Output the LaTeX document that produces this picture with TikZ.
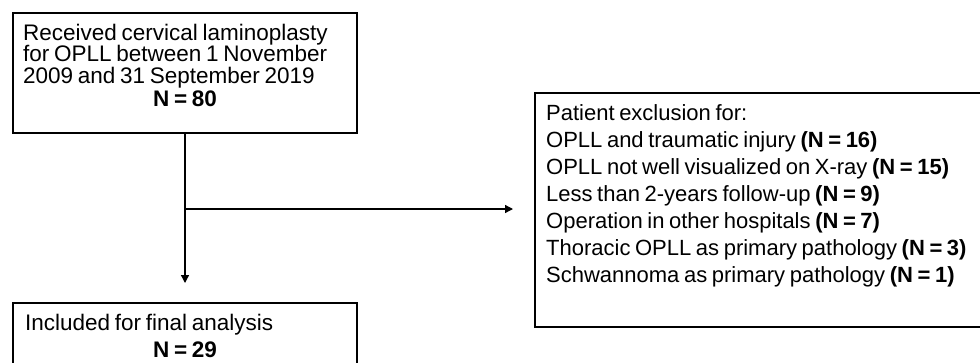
\documentclass[tikz,border=0pt]{standalone}
\usepackage{fontspec}
\setmainfont[WordSpace=0.75]{Liberation Sans}
\usetikzlibrary{arrows.meta}
\begin{document}
\begin{tikzpicture}[x=1pt,y=-1pt,
  box/.style={draw, line width=1.3pt, inner sep=0pt, outer sep=0pt},
  txt/.style={anchor=base west, inner sep=0pt, font=\fontsize{22.5}{27}\selectfont},
  rtxt/.style={anchor=base west, inner sep=0pt, font=\fontsize{22}{27}\selectfont},
  ctr/.style={anchor=base, inner sep=0pt, font=\fontsize{22.5}{27}\selectfont\bfseries},
  link/.style={line width=1.3pt, -{Triangle[length=8pt,width=8pt]}}]
\useasboundingbox (0,0) rectangle (980,362);
\clip (0,0) rectangle (980,362);
% boxes
\node[box, minimum width=344pt, minimum height=120pt] (top) at (185,73) {};
\node[box, minimum width=475pt, minimum height=234pt] (excl) at (772.5,210) {};
\node[box, minimum width=344pt, minimum height=97pt] (incl) at (185,351.5) {};
% top box text
\node[txt] (t1) at (23,40) {Received cervical laminoplasty};
\node[txt] (t2) at (23,61.7) {for OPLL between 1 November};
\node[txt] (t3) at (23,83.3) {2009 and 31 September 2019};
\node[ctr] (t4) at (185,106) {N = 80};
% exclusion text
\node[rtxt] (e0) at (546,120) {Patient exclusion for:};
\node[rtxt] (e1) at (546,147) {OPLL and traumatic injury \textbf{(N = 16)}};
\node[rtxt] (e2) at (546,174) {OPLL not well visualized on X-ray \textbf{(N = 15)}};
\node[rtxt] (e3) at (546,201) {Less than 2-years follow-up \textbf{(N = 9)}};
\node[rtxt] (e4) at (546,228) {Operation in other hospitals \textbf{(N = 7)}};
\node[rtxt] (e5) at (546,255) {Thoracic OPLL as primary pathology \textbf{(N = 3)}};
\node[rtxt] (e6) at (546,282) {Schwannoma as primary pathology \textbf{(N = 1)}};
% included text
\node[txt] (i1) at (25,330) {Included for final analysis};
\node[ctr] (i2) at (185,357) {N = 29};
% connectors
\coordinate (j) at (185,209);
\draw[link, shorten >=20pt] (top.south) -- (incl.north);
\draw[link, shorten >=22pt] (j) -- (excl.west |- j);
\end{tikzpicture}
\end{document}
